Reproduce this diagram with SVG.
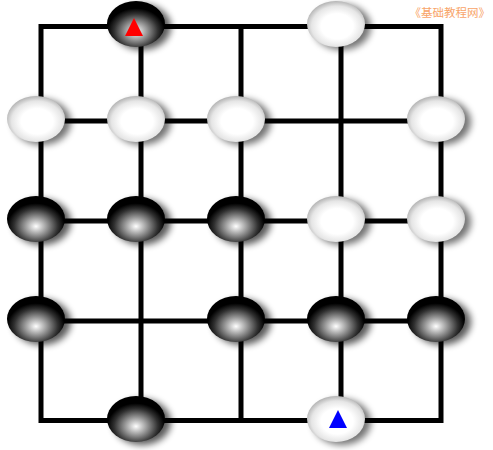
<svg xmlns="http://www.w3.org/2000/svg" xmlns:xlink="http://www.w3.org/1999/xlink" width="493" height="450" viewBox="0 0 493 450">
<style>
.grid{stroke:#000;stroke-width:5;fill:none;stroke-linecap:square}
.brand{font-family:"Noto Sans CJK SC","Liberation Sans",sans-serif;font-size:11.5px;fill:#f8a468}
</style>
<defs>
<radialGradient id="gBlack" cx="50%" cy="65%" r="58%" fx="50%" fy="66%">
<stop offset="0" stop-color="#ffffff"/>
<stop offset="0.3" stop-color="#a0a0a0"/>
<stop offset="0.65" stop-color="#303030"/>
<stop offset="0.85" stop-color="#000000"/>
<stop offset="1" stop-color="#000000"/>
</radialGradient>
<radialGradient id="gWhite" cx="52%" cy="55%" r="55%">
<stop offset="0" stop-color="#ffffff"/>
<stop offset="0.5" stop-color="#ffffff"/>
<stop offset="0.8" stop-color="#e6e6e6"/>
<stop offset="1" stop-color="#b4b4b4"/>
</radialGradient>
<filter id="blur" x="-50%" y="-50%" width="200%" height="200%">
<feGaussianBlur stdDeviation="3.5"/>
</filter>
<g id="black">
<ellipse cx="1" cy="1" rx="29" ry="23" fill="#000" opacity="0.65" filter="url(#blur)"/>
<ellipse cx="-5" cy="-2" rx="29" ry="23" fill="url(#gBlack)"/>
</g>
<g id="white">
<ellipse cx="1" cy="1" rx="29" ry="23" fill="#000" opacity="0.55" filter="url(#blur)"/>
<ellipse cx="-5" cy="-2" rx="29" ry="23" fill="url(#gWhite)"/>
</g>
</defs>
<rect width="493" height="450" fill="#fff"/>
<g id="connectors" class="grid">
<rect x="41" y="26.5" width="400" height="394"/>
<line x1="141" y1="26.5" x2="141" y2="420.5"/>
<line x1="241" y1="26.5" x2="241" y2="420.5"/>
<line x1="341" y1="26.5" x2="341" y2="420.5"/>
<line x1="41" y1="121" x2="441" y2="121"/>
<line x1="41" y1="221" x2="441" y2="221"/>
<line x1="41" y1="321" x2="441" y2="321"/>
</g>
<g id="stone-r0c1"><use xlink:href="#black" x="141" y="26"/><polygon points="134,18 125,36 143,36" fill="#f00"/></g>
<g id="stone-r0c3"><use xlink:href="#white" x="341" y="26"/></g>
<g id="stone-r1c0"><use xlink:href="#white" x="41" y="121"/></g>
<g id="stone-r1c1"><use xlink:href="#white" x="141" y="121"/></g>
<g id="stone-r1c2"><use xlink:href="#white" x="241" y="121"/></g>
<g id="stone-r1c4"><use xlink:href="#white" x="441" y="121"/></g>
<g id="stone-r2c0"><use xlink:href="#black" x="41" y="221"/></g>
<g id="stone-r2c1"><use xlink:href="#black" x="141" y="221"/></g>
<g id="stone-r2c2"><use xlink:href="#black" x="241" y="221"/></g>
<g id="stone-r2c3"><use xlink:href="#white" x="341" y="221"/></g>
<g id="stone-r2c4"><use xlink:href="#white" x="441" y="221"/></g>
<g id="stone-r3c0"><use xlink:href="#black" x="41" y="321"/></g>
<g id="stone-r3c2"><use xlink:href="#black" x="241" y="321"/></g>
<g id="stone-r3c3"><use xlink:href="#black" x="341" y="321"/></g>
<g id="stone-r3c4"><use xlink:href="#black" x="441" y="321"/></g>
<g id="stone-r4c1"><use xlink:href="#black" x="141" y="421"/></g>
<g id="stone-r4c3"><use xlink:href="#white" x="341" y="421"/><polygon points="338,410 329,428 347,428" fill="#00f"/></g>
<text class="brand" x="490" y="17" text-anchor="end">《基础教程网》</text>
</svg>
